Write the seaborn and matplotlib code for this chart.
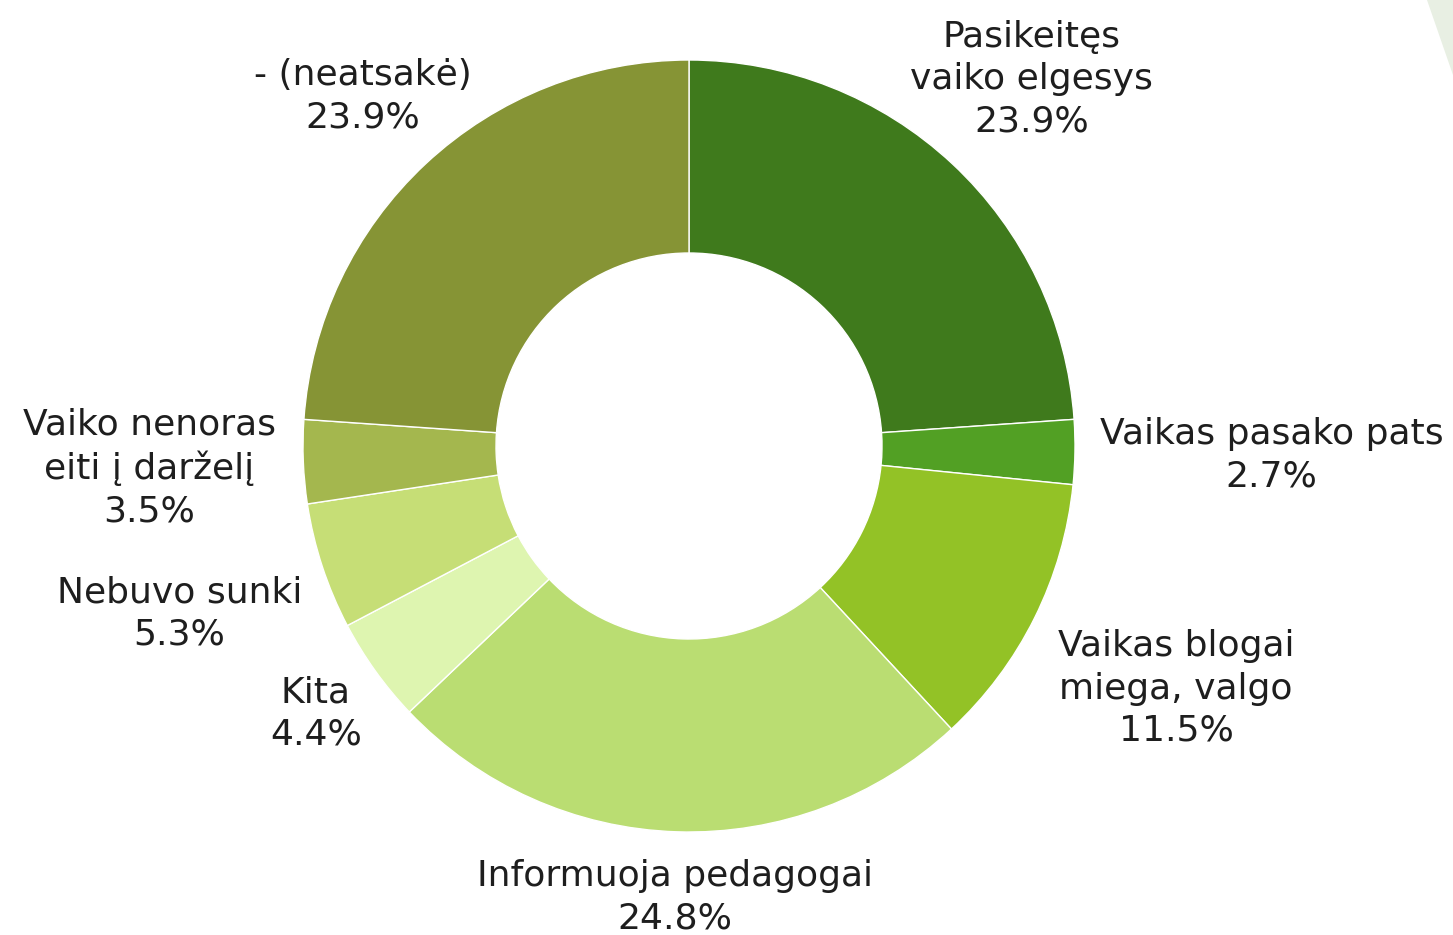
import matplotlib
matplotlib.use("Agg")
import matplotlib.pyplot as plt
import numpy as np
import seaborn as sns
from matplotlib.patches import Polygon

labels = [
    "Pasikeitęs\nvaiko elgesys",
    "Vaikas pasako pats",
    "Vaikas blogai\nmiega, valgo",
    "Informuoja pedagogai",
    "Kita",
    "Nebuvo sunki",
    "Vaiko nenoras\neiti į darželį",
    "- (neatsakė)",
]
shares = [23.9, 2.7, 11.5, 24.8, 4.4, 5.3, 3.5, 23.9]
colors = ["#3f7a1c", "#52a024", "#93c226", "#badd72",
          "#def5b0", "#c6de76", "#a4b74e", "#869435"]
# how far each label sits from the centre, in pie radii
label_dist = [1.30, 1.51, 1.41, 1.17, 1.19, 1.39, 1.40, 1.24]


def main():
    sns.set_theme(style="white")
    plt.rcParams["font.family"] = ["DejaVu Sans"]

    fig = plt.figure(figsize=(14.53, 9.35), dpi=100)
    ax = fig.add_axes([0, 0, 1, 1])

    wedges, texts = ax.pie(
        shares,
        labels=[f"{l}\n{v:.1f}%" for l, v in zip(labels, shares)],
        colors=colors,
        startangle=90,
        counterclock=False,
        radius=1.0,
        wedgeprops=dict(width=0.5, edgecolor="white", linewidth=1.0),
        textprops=dict(fontsize=26, color="#1e1e1e"),
    )

    for w, t, d in zip(wedges, texts, label_dist):
        ang = np.deg2rad((w.theta1 + w.theta2) / 2)
        t.set_position((d * np.cos(ang), d * np.sin(ang)))
        t.set_ha("center")
        t.set_va("center")
        t.set_multialignment("center")
        t.set_linespacing(1.3)

    ax.set_xlim(-689 / 386, (1453 - 689) / 386)
    ax.set_ylim(-(935 - 446) / 386, 446 / 386)
    ax.set_aspect("auto")
    ax.axis("off")

    # faint decoration in the top right corner
    fig.patches.append(Polygon([(1427 / 1453, 1), (1, 1), (1, 1 - 75 / 935)],
                               closed=True, transform=fig.transFigure,
                               facecolor="#e8efe3", edgecolor="none"))

    fig.savefig("out.png", dpi=100)


if __name__ == "__main__":
    main()
